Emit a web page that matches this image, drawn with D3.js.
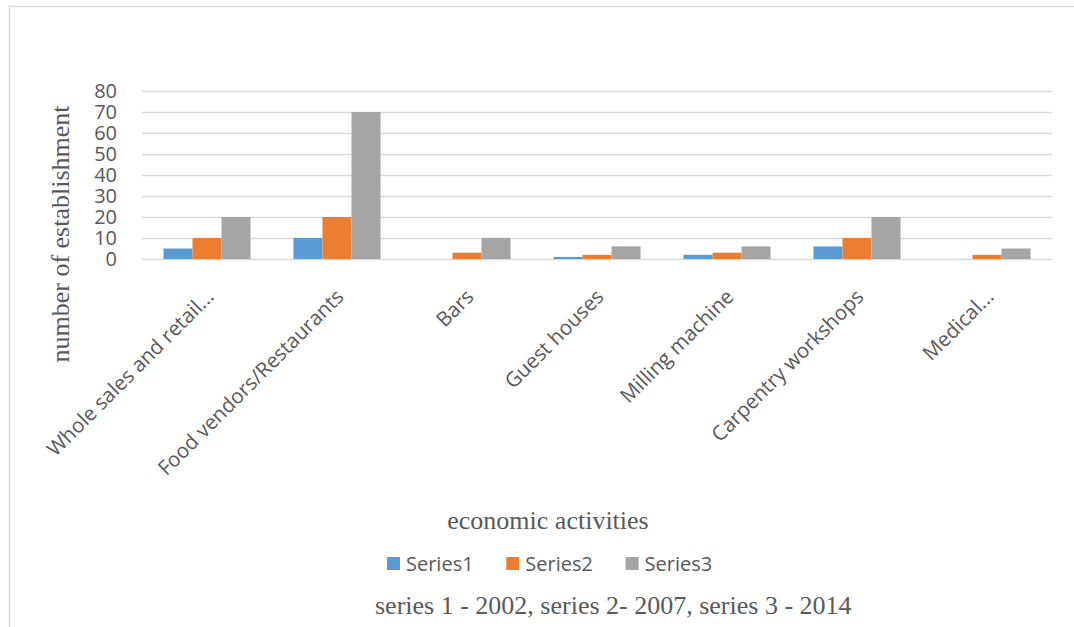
<!DOCTYPE html>
<html>
<head>
<meta charset="utf-8">
<script src="https://cdn.jsdelivr.net/npm/d3@7"></script>
<style>
    body { margin: 0; background: #fff; }
    .tick text { font-family: "Open Sans", sans-serif; font-size: 20px; fill: #595959; }
    .serif { font-family: "Liberation Serif", "Times New Roman", serif; font-size: 26px; fill: #595959; }
</style>
</head>
<body>
<script>
const categories = ["Whole sales and retail...", "Food vendors/Restaurants", "Bars", "Guest houses",
    "Milling machine", "Carpentry workshops", "Medical..."];
const seriesNames = ["Series1", "Series2", "Series3"];
const series1 = [5, 10, 0, 1, 2, 6, 0];
const series2 = [10, 20, 3, 2, 3, 10, 2];
const series3 = [20, 70, 10, 6, 6, 20, 5];
const yTicks = [0, 10, 20, 30, 40, 50, 60, 70, 80];
const colors = ["#5b9bd5", "#ed7d31", "#a5a5a5"];

const w = 1074, h = 627;
const margin = {top: 91, right: 22, bottom: 368, left: 142};

const svg = d3.select("body").append("svg")
    .attr("width", w)
    .attr("height", h);

// chart frame (only top and left edges show in the picture)
svg.append("path")
    .attr("d", `M9.5,${h} V6.5 H${w}`)
    .attr("fill", "none")
    .attr("stroke", "#d9d9d9")
    .attr("stroke-width", 1.5);

const data = categories.map((c, i) => ({cat: c, values: [series1[i], series2[i], series3[i]]}));

let x = d3.scaleBand()
    .domain(categories)
    .range([margin.left, w - margin.right]);

let x1 = d3.scaleBand()
    .domain(d3.range(seriesNames.length))
    .range([0, x.bandwidth()])
    .paddingInner(0)
    .paddingOuter(0.74);

let y = d3.scaleLinear()
    .domain([0, 80])
    .range([h - margin.bottom, margin.top]);

// gridlines + labels
svg.append("g")
    .attr("transform", `translate(${margin.left},0)`)
    .call(d3.axisLeft(y)
        .tickValues(yTicks)
        .tickSize(-(w - margin.left - margin.right))
        .tickPadding(25))
    .call(g => g.select(".domain").remove())
    .call(g => g.selectAll(".tick line").attr("stroke", "#d9d9d9").attr("stroke-width", 1.3));

svg.append("g")
    .selectAll("g")
    .data(data)
    .enter().append("g")
    .attr("transform", d => `translate(${x(d.cat)},0)`)
    .selectAll("rect")
    .data(d => d.values)
    .enter().append("rect")
    .attr("x", (d, i) => x1(i))
    .attr("width", x1.bandwidth())
    .attr("y", d => y(d))
    .attr("height", d => y(0) - y(d))
    .attr("fill", (d, i) => colors[i]);

// category labels
svg.append("g")
    .selectAll("text")
    .data(categories)
    .enter().append("text")
    .attr("transform", d => `translate(${x(d) + x.bandwidth() / 2 + 8},298) rotate(-45)`)
    .attr("text-anchor", "end")
    .style("font-family", "'Open Sans', sans-serif")
    .style("font-size", "20.5px")
    .style("fill", "#595959")
    .text(d => d);

svg.append("text")
    .attr("class", "serif")
    .attr("transform", "translate(69,234) rotate(-90)")
    .attr("text-anchor", "middle")
    .text("number of establishment");

svg.append("text")
    .attr("class", "serif")
    .attr("x", 548)
    .attr("y", 529)
    .attr("text-anchor", "middle")
    .text("economic activities");

// legend
const legend = svg.append("g")
    .selectAll("g")
    .data(seriesNames)
    .enter().append("g")
    .attr("transform", (d, i) => `translate(${387 + i * 119.3},557)`);

legend.append("rect")
    .attr("width", 13)
    .attr("height", 13)
    .attr("fill", (d, i) => colors[i]);

legend.append("text")
    .attr("x", 19)
    .attr("y", 13.5)
    .style("font-family", "'Open Sans', sans-serif")
    .style("font-size", "20px")
    .style("fill", "#595959")
    .text(d => d);

svg.append("text")
    .attr("class", "serif")
    .attr("x", 375)
    .attr("y", 614)
    .text("series 1 - 2002, series 2- 2007, series 3 - 2014");
</script>
</body>
</html>
